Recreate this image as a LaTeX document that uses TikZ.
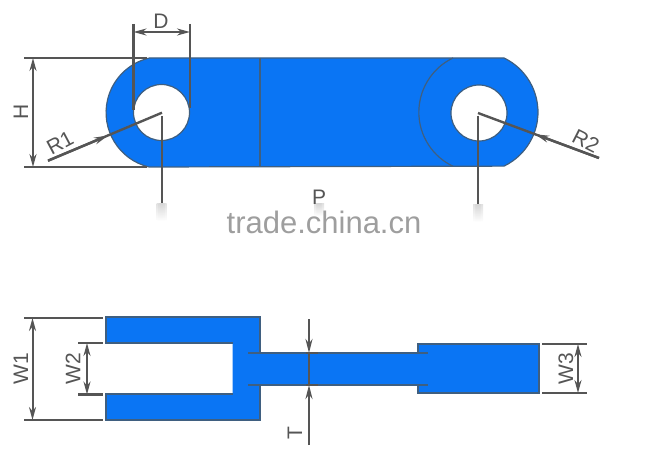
\documentclass[tikz,border=0pt]{standalone}
\usepackage{fontspec}
\setmainfont{Liberation Sans}
\usetikzlibrary{arrows.meta}
\definecolor{partblue}{HTML}{0A75F4}
\definecolor{edge}{HTML}{3F5F80}
\definecolor{dimgray}{HTML}{555555}
\tikzset{
  x=1pt,y=-1pt,
  partfill/.style={fill=partblue},
  edgeline/.style={draw=edge,line width=1.2pt},
  extline/.style={draw=dimgray,line width=2.6pt},
  dimline/.style={draw=dimgray,line width=2pt,{Stealth[length=13pt,width=7pt]}-{Stealth[length=13pt,width=7pt]}},
  leader/.style={draw=dimgray,line width=2.4pt},
  tipline/.style={draw=dimgray,line width=2.4pt,-{Stealth[length=14pt,width=7pt]}},
  lbl/.style={text=dimgray,font=\fontsize{21}{21}\selectfont,inner sep=0pt},
  fadebit/.style={top color=black!16,bottom color=white,draw=none,opacity=.7},
}
\newcommand{\softfade}[3]{%
  \shade[fadebit] (#1-5,#2) rectangle (#1+5,#3);
  \shade[fadebit] (#1-3,#2) rectangle (#1+3,#3);
  \shade[fadebit] (#1-1.5,#2) rectangle (#1+1.5,#3);}
\begin{document}
\begin{tikzpicture}
\useasboundingbox (0,0) rectangle (648,465);
% ---- top view
\fill[partfill,even odd rule]
  (149,58) -- (504,58) arc[start angle=-64.3,end angle=64.3,radius=60] -- (149,167)
  arc[start angle=103.5,end angle=256.5,radius=56] -- cycle
  (189.5,112.5) arc[start angle=0,end angle=360,radius=28]
  (507,113) arc[start angle=0,end angle=360,radius=28];
\draw[edgeline]
  (149,58) -- (504,58) arc[start angle=-64.3,end angle=64.3,radius=60] -- (149,167)
  arc[start angle=103.5,end angle=256.5,radius=56];
\draw[edgeline] (189.5,112.5) arc[start angle=0,end angle=360,radius=28];
\draw[edgeline] (507,113) arc[start angle=0,end angle=360,radius=28];
\draw[edgeline] (453,58) arc[start angle=-115.5,end angle=-244.5,radius=60];
\draw[edgeline] (260,58) -- (260,167);
% ---- top view dimensions
\coordinate (dL) at (133.5,24); \coordinate (dLe) at (133.5,110);
\coordinate (dR) at (190,24);   \coordinate (dRe) at (190,108);
\coordinate (dAL) at (133.5,32); \coordinate (dAR) at (190,32);
\draw[extline] (dL) -- (dLe);
\draw[extline] (dR) -- (dRe);
\draw[dimline] (dAL) -- (dAR);
\node[lbl] (labD) at (161,21) {D};
\coordinate (hT0) at (24,58);  \coordinate (hT1) at (147,58);
\coordinate (hB0) at (24,167); \coordinate (hB1) at (147,167);
\coordinate (hAT) at (33,58);  \coordinate (hAB) at (33,167);
\draw[extline] (hT0) -- (hT1);
\draw[extline] (hB0) -- (hB1);
\draw[dimline] (hAT) -- (hAB);
\node[lbl,rotate=90] (labH) at (21,112) {H};
\coordinate (c1) at (162,112.7); \coordinate (r1end) at (48,160.7); \coordinate (r1tip) at (108,135.5);
\coordinate (c2) at (478,113);   \coordinate (r2end) at (599,158);  \coordinate (r2tip) at (535,134.2);
\draw[leader] (r1end) -- (c1);
\draw[tipline] (r1end) -- (r1tip);
\node[lbl,rotate=28] (labR1) at (60,143) {R1};
\draw[leader] (r2end) -- (c2);
\draw[tipline] (r2end) -- (r2tip);
\node[lbl,rotate=-27] (labR2) at (586,141) {R2};
\coordinate (p1a) at (162,116); \coordinate (p1b) at (162,203);
\coordinate (p2a) at (478,116); \coordinate (p2b) at (478,204);
\draw[leader] (p1a) -- (p1b);
\draw[leader] (p2a) -- (p2b);
\softfade{161.5}{204}{221}
\softfade{478}{205}{222}
\softfade{319}{204}{216}
\node[lbl] (labP) at (319,197) {P};
\node[text=black!38,font=\fontsize{31}{31}\selectfont,inner sep=0pt] (mark) at (324,222) {trade.china.cn};
% ---- side view
\fill[partfill] (106,317) -- (260,317) -- (260,353) -- (418,353) -- (418,344) -- (539,344)
  -- (539,393) -- (418,393) -- (418,385) -- (260,385) -- (260,420) -- (106,420) -- (106,394)
  -- (232.5,394) -- (232.5,343) -- (106,343) -- cycle;
\draw[edgeline] (260,353) -- (260,317) -- (106,317) -- (106,343) -- (232.5,343);
\draw[edgeline] (232.5,394) -- (106,394) -- (106,420) -- (260,420) -- (260,385);
\draw[edgeline] (418,353) -- (418,344) -- (539,344) -- (539,393) -- (418,393) -- (418,385);
\draw[edgeline] (248,353) -- (428,353);
\draw[edgeline] (248,385) -- (428,385);
% ---- side view dimensions
\coordinate (wT0) at (24,318);  \coordinate (wT1) at (103,318);
\coordinate (wB0) at (24,420);  \coordinate (wB1) at (103,420);
\coordinate (wAT) at (32.5,318); \coordinate (wAB) at (32.5,420);
\draw[extline] (wT0) -- (wT1);
\draw[extline] (wB0) -- (wB1);
\draw[dimline] (wAT) -- (wAB);
\node[lbl,rotate=90] (labW1) at (21,369) {W1};
\coordinate (vT0) at (78,343);  \coordinate (vT1) at (103,343);
\coordinate (vB0) at (78,394.5);\coordinate (vB1) at (103,394.5);
\coordinate (vAT) at (87,343);  \coordinate (vAB) at (87,394.5);
\draw[extline] (vT0) -- (vT1);
\draw[extline] (vB0) -- (vB1);
\draw[dimline] (vAT) -- (vAB);
\node[lbl,rotate=90] (labW2) at (73,369) {W2};
\coordinate (tTop) at (309,319); \coordinate (tT) at (309,353);
\coordinate (tBot) at (309,445); \coordinate (tB) at (309,385);
\draw[tipline] (tTop) -- (tT);
\draw[tipline] (tBot) -- (tB);
\draw[leader] (tT) -- (tB);
\draw[extline] (306,353) -- (318,353);
\draw[extline] (306,385) -- (318,385);
\node[lbl,rotate=90] (labT) at (295,433) {T};
\coordinate (uT0) at (542,344); \coordinate (uT1) at (587,344);
\coordinate (uB0) at (542,393); \coordinate (uB1) at (587,393);
\coordinate (uAT) at (578,344); \coordinate (uAB) at (578,393);
\draw[extline] (uT0) -- (uT1);
\draw[extline] (uB0) -- (uB1);
\draw[dimline] (uAT) -- (uAB);
\node[lbl,rotate=90] (labW3) at (566,369) {W3};
\end{tikzpicture}
\end{document}
